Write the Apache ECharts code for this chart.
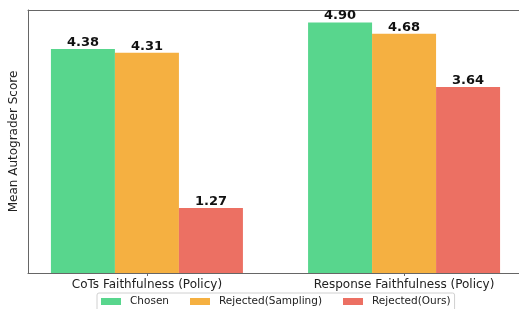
<!DOCTYPE html>
<html>
<head>
<meta charset="utf-8">
<script src="https://cdn.jsdelivr.net/npm/echarts@6/dist/echarts.min.js"></script>
<style>
  html, body { margin: 0; padding: 0; background: #fff; }
  #chart { width: 519px; height: 309px; }
</style>
</head>
<body>
<div id="chart"></div>
<script>
const categories = ["CoTs Faithfulness (Policy)", "Response Faithfulness (Policy)"];
const seriesNames = ["Chosen", "Rejected(Sampling)", "Rejected(Ours)"];
const chosen = [4.38, 4.90];
const rejectedSampling = [4.31, 4.68];
const rejectedOurs = [1.27, 3.64];
const colors = ["#58d68d", "#f5b041", "#ec7063"];

const values = [chosen, rejectedSampling, rejectedOurs];
const yMax = Math.max(...chosen, ...rejectedSampling, ...rejectedOurs) * 1.05;
const font = "DejaVu Sans";

const chart = echarts.init(document.getElementById("chart"));
chart.setOption({
  animation: false,
  textStyle: { fontFamily: font },
  grid: { left: 28, top: 10, width: 495, height: 263, outerBoundsMode: "none", containLabel: false },
  legend: {
    left: 97,
    top: 293,
    padding: [3, 4, 6, 4],
    itemWidth: 20,
    itemHeight: 7,
    itemGap: 21,
    borderColor: "#d0d0d0",
    borderWidth: 1,
    borderRadius: 2,
    backgroundColor: "#fff",
    textStyle: { fontFamily: font, fontSize: 10.5, color: "#222", padding: [0, 0, 0, 4] },
    data: seriesNames.map((n) => ({ name: n, icon: "rect" })),
  },
  xAxis: [
    {
      type: "value",
      min: -0.4625,
      max: 1.4625,
      splitLine: { show: false },
      axisLine: { show: true, onZero: false, lineStyle: { color: "#666", width: 1 } },
      axisTick: {
        show: true,
        customValues: [0, 1],
        length: 3,
        lineStyle: { color: "#666" },
      },
      axisLabel: {
        customValues: [0, 1],
        margin: 6,
        fontSize: 12,
        color: "#222",
        fontFamily: font,
        formatter: (v) => categories[Math.round(v)],
      },
    },
    {
      type: "value",
      position: "top",
      min: -0.4625,
      max: 1.4625,
      splitLine: { show: false },
      axisLine: { show: true, onZero: false, lineStyle: { color: "#666", width: 1 } },
      axisTick: { show: false },
      axisLabel: { show: false },
    },
  ],
  yAxis: {
    type: "value",
    min: 0,
    max: yMax,
    name: "Mean Autograder Score",
    nameLocation: "middle",
    nameGap: 8,
    nameTextStyle: { fontSize: 12, color: "#222", fontFamily: font },
    splitLine: { show: false },
    axisLine: { show: true, onZero: false, lineStyle: { color: "#666", width: 1 } },
    axisTick: { show: false },
    axisLabel: { show: false },
  },
  series: seriesNames.map((name, i) => ({
    name: name,
    type: "bar",
    barWidth: 64,
    barGap: "0%",
    itemStyle: { color: colors[i] },
    label: {
      show: true,
      position: "top",
      distance: 0,
      fontSize: 13,
      fontWeight: "bold",
      color: "#111",
      fontFamily: font,
      formatter: (p) => p.value[1].toFixed(2),
    },
    data: values[i].map((v, j) => [j, v]),
  })),
});
</script>
</body>
</html>
